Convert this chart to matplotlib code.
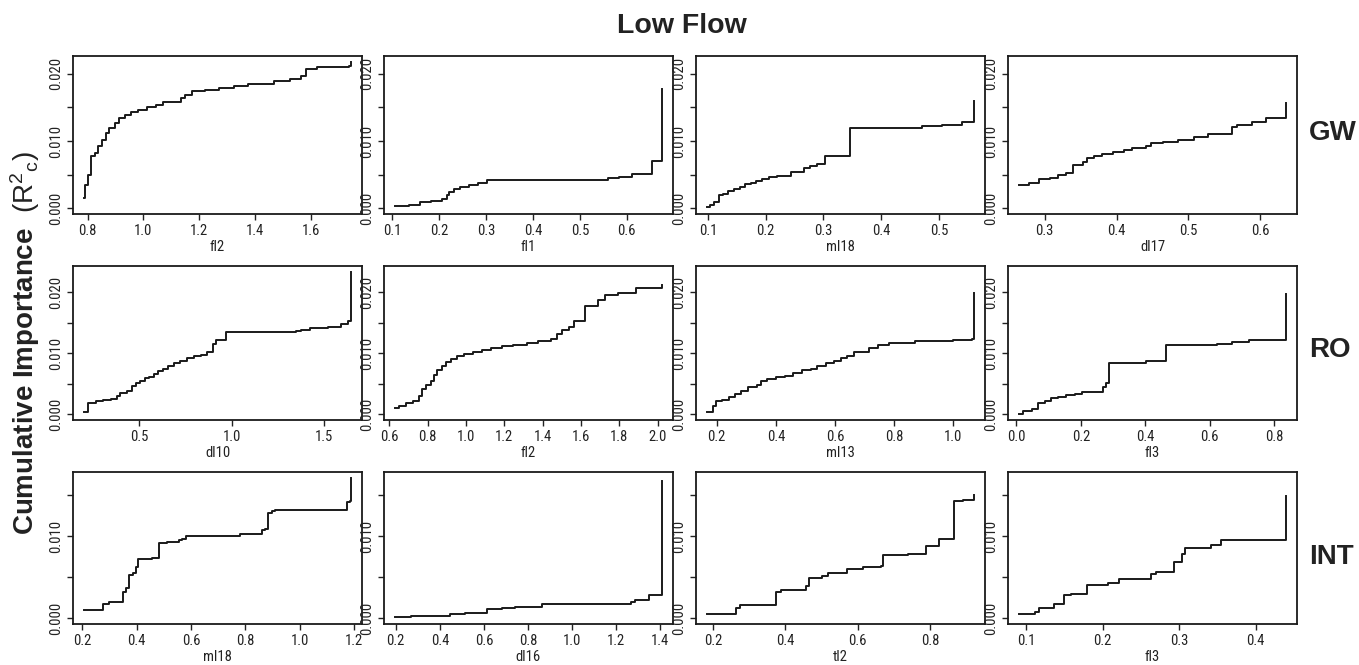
import matplotlib

matplotlib.use("Agg")
import matplotlib.pyplot as plt
from matplotlib import font_manager
from matplotlib.ticker import MultipleLocator, FuncFormatter

installed = {f.name for f in font_manager.fontManager.ttflist}
narrow = [n for n in ("Liberation Sans Narrow", "Arial Narrow", "Roboto Condensed") if n in installed]
TICK_FONT = narrow + ["Liberation Sans", "DejaVu Sans"]
BOLD_FONT = ["Liberation Sans", "DejaVu Sans"]
plt.rcParams["mathtext.fontset"] = "custom"
plt.rcParams["mathtext.rm"] = "Liberation Sans"
plt.rcParams["mathtext.it"] = "Liberation Sans:italic"
plt.rcParams["mathtext.bf"] = "Liberation Sans:bold"

row_names = ["GW", "RO", "INT"]

# cumulative importance curves (step functions), one pair of lists per panel
gw_fl2_x = [0.786, 0.789, 0.800, 0.813, 0.826, 0.837, 0.853, 0.866, 0.877, 0.898, 0.914,
            0.933, 0.957, 0.981, 1.013, 1.045, 1.069, 1.133, 1.149, 1.173, 1.221, 1.269,
            1.325, 1.373, 1.469, 1.525, 1.565, 1.581, 1.621, 1.736, 1.744]
gw_fl2_y = [0.0015, 0.0035, 0.0049, 0.0078, 0.0082, 0.0092, 0.0101, 0.0112, 0.0120, 0.0127,
            0.0134, 0.0139, 0.0143, 0.0146, 0.0150, 0.0154, 0.0158, 0.0164, 0.0169, 0.0174,
            0.0176, 0.0179, 0.0182, 0.0185, 0.0190, 0.0193, 0.0197, 0.0208, 0.0210, 0.0212,
            0.0218]

gw_fl1_x = [0.105, 0.135, 0.160, 0.183, 0.206, 0.216, 0.221, 0.231, 0.245, 0.264, 0.282,
            0.301, 0.560, 0.583, 0.611, 0.653, 0.676]
gw_fl1_y = [0.0003, 0.0005, 0.0009, 0.0011, 0.0013, 0.0019, 0.0024, 0.0028, 0.0032, 0.0035,
            0.0038, 0.0042, 0.0045, 0.0047, 0.0051, 0.0070, 0.0177]

gw_ml18_x = [0.098, 0.104, 0.111, 0.119, 0.126, 0.134, 0.145, 0.156, 0.164, 0.175, 0.183,
             0.194, 0.205, 0.220, 0.243, 0.267, 0.276, 0.288, 0.303, 0.321, 0.346, 0.471,
             0.505, 0.540, 0.561]
gw_ml18_y = [0.00015, 0.0005, 0.0009, 0.0019, 0.0021, 0.0026, 0.0028, 0.0031, 0.0036, 0.0038,
             0.0040, 0.0043, 0.0046, 0.0048, 0.0054, 0.0060, 0.0063, 0.0066, 0.0077, 0.0078,
             0.0120, 0.0122, 0.0124, 0.0128, 0.0160]

gw_dl17_x = [0.264, 0.279, 0.292, 0.307, 0.319, 0.330, 0.339, 0.353, 0.359, 0.368, 0.380,
             0.395, 0.410, 0.422, 0.441, 0.448, 0.465, 0.486, 0.507, 0.527, 0.560, 0.568,
             0.589, 0.608, 0.636]
gw_dl17_y = [0.0034, 0.0038, 0.0043, 0.0045, 0.0049, 0.0053, 0.0065, 0.0069, 0.0074, 0.0077,
             0.0081, 0.0084, 0.0087, 0.0090, 0.0093, 0.0097, 0.0099, 0.0102, 0.0106, 0.0110,
             0.0121, 0.0124, 0.0128, 0.0134, 0.0156]

ro_dl10_x = [0.198, 0.220, 0.263, 0.300, 0.348, 0.379, 0.396, 0.432, 0.457, 0.481, 0.505,
             0.529, 0.553, 0.577, 0.601, 0.626, 0.655, 0.686, 0.722, 0.758, 0.795, 0.831,
             0.867, 0.896, 0.915, 0.969, 1.350, 1.374, 1.423, 1.519, 1.592, 1.628, 1.647]
ro_dl10_y = [0.0003, 0.0019, 0.0021, 0.0023, 0.0025, 0.0030, 0.0035, 0.0039, 0.0047, 0.0052,
             0.0055, 0.0059, 0.0062, 0.0066, 0.0071, 0.0074, 0.0080, 0.0084, 0.0088, 0.0093,
             0.0095, 0.0097, 0.0102, 0.0116, 0.0122, 0.0135, 0.0137, 0.0139, 0.0142, 0.0144,
             0.0149, 0.0153, 0.0234]

ro_fl2_x = [0.628, 0.651, 0.686, 0.721, 0.756, 0.773, 0.791, 0.815, 0.833, 0.850, 0.873,
            0.896, 0.920, 0.955, 0.990, 1.036, 1.083, 1.130, 1.188, 1.246, 1.316, 1.375,
            1.445, 1.473, 1.503, 1.538, 1.562, 1.620, 1.690, 1.725, 1.795, 1.888, 2.024]
ro_fl2_y = [0.0010, 0.0014, 0.0018, 0.0021, 0.0030, 0.0041, 0.0048, 0.0055, 0.0065, 0.0073,
            0.0080, 0.0085, 0.0091, 0.0095, 0.0099, 0.0103, 0.0106, 0.0109, 0.0112, 0.0114,
            0.0117, 0.0120, 0.0123, 0.0132, 0.0138, 0.0143, 0.0153, 0.0177, 0.0187, 0.0196,
            0.0199, 0.0207, 0.0212]

ro_ml13_x = [0.166, 0.188, 0.199, 0.218, 0.240, 0.261, 0.283, 0.305, 0.335, 0.349, 0.371,
             0.401, 0.430, 0.459, 0.488, 0.518, 0.540, 0.569, 0.598, 0.620, 0.642, 0.664,
             0.715, 0.745, 0.781, 0.869, 0.998, 1.062, 1.071]
ro_ml13_y = [0.0004, 0.0014, 0.0021, 0.0023, 0.0028, 0.0033, 0.0039, 0.0044, 0.0048, 0.0054,
             0.0058, 0.0061, 0.0063, 0.0068, 0.0073, 0.0075, 0.0080, 0.0084, 0.0087, 0.0092,
             0.0096, 0.0102, 0.0109, 0.0113, 0.0117, 0.0120, 0.0122, 0.0124, 0.0199]

ro_fl3_x = [0.007, 0.020, 0.047, 0.068, 0.088, 0.108, 0.128, 0.155, 0.182, 0.203, 0.270,
            0.277, 0.288, 0.401, 0.464, 0.622, 0.669, 0.723, 0.838]
ro_fl3_y = [0.0001, 0.0006, 0.0008, 0.0018, 0.0022, 0.0026, 0.0029, 0.0031, 0.0034, 0.0037,
            0.0045, 0.0052, 0.0084, 0.0088, 0.0113, 0.0116, 0.0118, 0.0122, 0.0197]

int_ml18_x = [0.205, 0.277, 0.297, 0.350, 0.360, 0.372, 0.388, 0.397, 0.405, 0.455, 0.483,
              0.510, 0.555, 0.567, 0.580, 0.780, 0.860, 0.872, 0.883, 0.897, 0.910, 1.175,
              1.185, 1.190]
int_ml18_y = [0.00096, 0.0018, 0.0020, 0.0032, 0.0037, 0.0053, 0.0055, 0.0063, 0.0072, 0.0073,
              0.0091, 0.0093, 0.0095, 0.0097, 0.0100, 0.0102, 0.0107, 0.0109, 0.0128, 0.0131,
              0.0132, 0.0141, 0.0143, 0.0171]

int_dl16_x = [0.195, 0.270, 0.445, 0.514, 0.614, 0.684, 0.743, 0.863, 1.268, 1.285, 1.350, 1.410]
int_dl16_y = [0.00016, 0.0003, 0.0005, 0.0007, 0.0011, 0.0013, 0.0014, 0.0018, 0.0020, 0.0022,
              0.0029, 0.0167]

int_tl2_x = [0.183, 0.263, 0.275, 0.374, 0.388, 0.424, 0.458, 0.466, 0.502, 0.517, 0.571,
             0.615, 0.663, 0.669, 0.740, 0.788, 0.824, 0.865, 0.892, 0.922]
int_tl2_y = [0.0005, 0.0013, 0.0016, 0.0032, 0.0034, 0.0035, 0.0039, 0.0049, 0.0051, 0.0055,
             0.0060, 0.0062, 0.0064, 0.0077, 0.0078, 0.0088, 0.0096, 0.0142, 0.0144, 0.0150]

int_fl3_x = [0.090, 0.111, 0.117, 0.136, 0.149, 0.159, 0.179, 0.207, 0.221, 0.263, 0.270,
             0.293, 0.304, 0.308, 0.322, 0.341, 0.355, 0.440]
int_fl3_y = [0.0005, 0.0008, 0.0012, 0.0017, 0.0028, 0.0030, 0.0040, 0.0043, 0.0048, 0.0054,
             0.0056, 0.0069, 0.0078, 0.0085, 0.0086, 0.0089, 0.0095, 0.0149]

panels = [
    [("fl2", gw_fl2_x, gw_fl2_y, 0.2), ("fl1", gw_fl1_x, gw_fl1_y, 0.1),
     ("ml18", gw_ml18_x, gw_ml18_y, 0.1), ("dl17", gw_dl17_x, gw_dl17_y, 0.1)],
    [("dl10", ro_dl10_x, ro_dl10_y, 0.5), ("fl2", ro_fl2_x, ro_fl2_y, 0.2),
     ("ml13", ro_ml13_x, ro_ml13_y, 0.2), ("fl3", ro_fl3_x, ro_fl3_y, 0.2)],
    [("ml18", int_ml18_x, int_ml18_y, 0.2), ("dl16", int_dl16_x, int_dl16_y, 0.2),
     ("tl2", int_tl2_x, int_tl2_y, 0.2), ("fl3", int_fl3_x, int_fl3_y, 0.1)],
]

W, H = 1359, 665
fig = plt.figure(figsize=(W / 100, H / 100), dpi=100)

# panel boxes in pixels
col_left = [73, 384, 696, 1008]
col_w = 289
row_top = [56, 266, 472]
row_h = [158, 154, 152]
ink = "#222222"


def ylab(v, pos):
    k = round(v / 0.005)
    if abs(v - k * 0.005) < 1e-9 and k % 2 == 0:
        return f"{v:.3f}"
    return ""


for r, row in enumerate(panels):
    ymax = max(max(p[2]) for p in row)
    for c, (name, xs, ys, step) in enumerate(row):
        ax = fig.add_axes([col_left[c] / W, 1 - (row_top[r] + row_h[r]) / H,
                           col_w / W, row_h[r] / H])
        ax.step(xs, ys, where="post", color="#1a1a1a", lw=1.4)
        span = xs[-1] - xs[0]
        ax.set_xlim(xs[0] - 0.04 * span, xs[-1] + 0.04 * span)
        ax.set_ylim(-0.04 * ymax, 1.04 * ymax)
        ax.xaxis.set_major_locator(MultipleLocator(step))
        ax.yaxis.set_major_locator(MultipleLocator(0.005))
        ax.yaxis.set_major_formatter(FuncFormatter(ylab))
        ax.tick_params(direction="out", length=4.5, width=1.0, labelsize=10.5, colors=ink)
        ax.tick_params(axis="x", pad=2.5)
        ax.tick_params(axis="y", pad=2.5)
        for lbl in ax.get_xticklabels() + ax.get_yticklabels():
            lbl.set_family(TICK_FONT)
        for lbl in ax.get_yticklabels():
            lbl.set_rotation(90)
            lbl.set_va("center")
        for s in ax.spines.values():
            s.set_linewidth(1.3)
            s.set_color("#1a1a1a")
        ax.set_xlabel(name, fontsize=10.5, family=TICK_FONT, color=ink, va="center")
        ax.xaxis.set_label_coords(0.5, -33 / row_h[r])

fig.text(682 / W, 1 - 26 / H, "Low Flow", ha="center", va="center",
         fontsize=20.5, fontweight="bold", family=BOLD_FONT, color=ink)
for lab, yc in zip(row_names, [133, 350, 557]):
    fig.text(1309 / W, 1 - yc / H, lab, ha="left", va="center",
             fontsize=20, fontweight="bold", family=BOLD_FONT, color=ink)
fig.text(25 / W, 1 - 343 / H,
         r"$\mathbf{Cumulative\ Importance}\ \ (\mathrm{R}^{2}{}_{\mathrm{c}})$",
         rotation=90, ha="center", va="center", fontsize=20, color=ink)

fig.savefig("out.png", dpi=100)
